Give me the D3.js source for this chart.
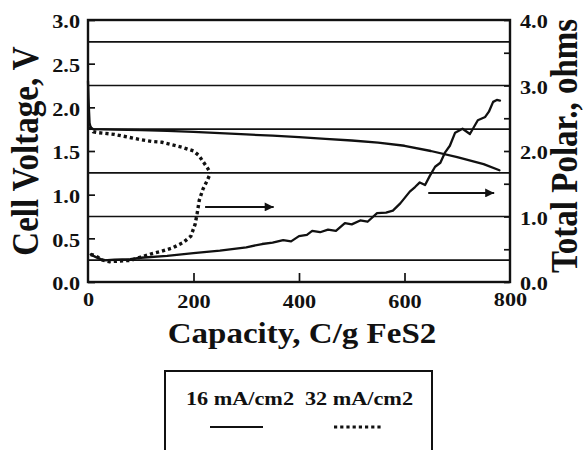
<!DOCTYPE html>
<html>
<head>
<meta charset="utf-8">
<script src="https://cdn.jsdelivr.net/npm/d3@7/dist/d3.min.js"></script>
<style>
  html, body { margin: 0; padding: 0; background: #fff; }
  svg { display: block; }
  text { font-family: "Liberation Serif", "Times New Roman", serif; font-weight: bold; fill: #111; }
</style>
</head>
<body>
<svg id="chart" width="586" height="450"></svg>
<script>
// capacity ticks and axis values
const capTicks = [0, 200, 400, 600, 800];
const voltTicks = [0, 0.5, 1.0, 1.5, 2.0, 2.5, 3.0];
const ohmTicks = [0, 0.5, 1, 1.5, 2, 2.5, 3, 3.5, 4];
const gridVolts = [0.25, 0.75, 1.25, 1.75, 2.25, 2.75];

// 16 mA/cm2 : cell voltage
const cap16V = [0, 1, 2, 3, 5, 10, 50, 100, 150, 200, 250, 300, 350, 400, 450, 500, 550, 600, 650, 700, 750, 780];
const volt16 = [2.3, 2.1, 1.95, 1.82, 1.77, 1.75, 1.745, 1.74, 1.73, 1.72, 1.705, 1.69, 1.675, 1.66, 1.64, 1.62, 1.595, 1.56, 1.5, 1.43, 1.35, 1.28];

// 16 mA/cm2 : total polarization
const cap16P = [5, 15, 30, 50, 80, 100, 150, 200, 250, 300, 330, 350, 370, 385, 400, 415, 425, 440, 455, 470, 487, 500, 516, 530, 548, 565, 578, 592, 610, 620, 629, 639, 648, 658, 668, 677, 686, 696, 710, 724, 739, 753, 760, 768, 775, 781];
const ohm16 = [0.42, 0.38, 0.33, 0.34, 0.35, 0.37, 0.4, 0.44, 0.48, 0.53, 0.58, 0.6, 0.64, 0.62, 0.7, 0.72, 0.78, 0.76, 0.8, 0.78, 0.9, 0.88, 0.94, 0.92, 1.05, 1.06, 1.09, 1.2, 1.38, 1.45, 1.52, 1.48, 1.62, 1.76, 1.82, 1.98, 2.08, 2.28, 2.34, 2.26, 2.47, 2.52, 2.6, 2.75, 2.78, 2.77];

// 32 mA/cm2 : cell voltage
const cap32V = [3, 10, 20, 50, 75, 100, 120, 140, 160, 180, 200, 210, 218, 226, 232];
const volt32 = [1.78, 1.72, 1.71, 1.69, 1.66, 1.63, 1.61, 1.6, 1.57, 1.54, 1.5, 1.45, 1.38, 1.31, 1.25];

// 32 mA/cm2 : total polarization
const cap32P = [5, 15, 25, 40, 60, 80, 100, 120, 140, 160, 180, 195, 203, 207, 211, 218, 226, 232];
const ohm32 = [0.42, 0.4, 0.34, 0.31, 0.32, 0.33, 0.38, 0.43, 0.47, 0.52, 0.6, 0.7, 0.88, 1.05, 1.25, 1.42, 1.55, 1.66];

// arrows: [capFrom, capTo, volt]
const arrows = [[222, 352, 0.86], [645, 770, 1.02]];

const legendLabels = ["16 mA/cm2", "32 mA/cm2"];

const svg = d3.select("#chart");
const pL = 88, pR = 510, pT = 20, pB = 282;
const STRETCH = 1.17; // the scanned figure is a bit wide

const x = d3.scaleLinear().domain([0, 800]).range([pL, pR]);
const yV = d3.scaleLinear().domain([0, 3]).range([pB, pT]);
const yP = d3.scaleLinear().domain([0, 4]).range([pB, pT]);

// widen horizontal text to match the scan
function widen(sel, f) {
  sel.each(function () {
    const w = this.getComputedTextLength();
    if (w > 0) d3.select(this).attr("textLength", w * f).attr("lengthAdjust", "spacingAndGlyphs");
  });
}

svg.append("defs").append("marker")
  .attr("id", "arr").attr("viewBox", "0 0 10 10")
  .attr("refX", 10).attr("refY", 5)
  .attr("markerWidth", 16).attr("markerHeight", 9)
  .attr("markerUnits", "userSpaceOnUse")
  .attr("orient", "auto")
  .append("path").attr("d", "M0,0 L10,5 L0,10 Z").attr("fill", "#111");

// gridlines
svg.append("g").selectAll("line").data(gridVolts).join("line")
  .attr("x1", pL).attr("x2", pR)
  .attr("y1", d => yV(d)).attr("y2", d => yV(d))
  .attr("stroke", "#111").attr("stroke-width", 1.7);

// axes (ticks inside)
const axL = svg.append("g").attr("transform", `translate(${pL},0)`)
  .call(d3.axisLeft(yV).tickValues(voltTicks).tickSize(-7).tickFormat(d3.format(".1f")).tickPadding(8));
const axR = svg.append("g").attr("transform", `translate(${pR},0)`)
  .call(d3.axisRight(yP).tickValues(ohmTicks).tickSize(-6)
    .tickFormat(d => Number.isInteger(d) ? d.toFixed(1) : "").tickPadding(10));
const axB = svg.append("g").attr("transform", `translate(0,${pB})`)
  .call(d3.axisBottom(x).tickValues(capTicks).tickSize(-9).tickFormat(d3.format("d")).tickPadding(13));

[axL, axR, axB].forEach(a => {
  a.select(".domain").remove();
  a.selectAll("line").attr("stroke", "#111").attr("stroke-width", 1.7);
  a.selectAll("text").attr("font-size", 19).attr("fill", "#111")
    .attr("font-family", '"Liberation Serif", serif').attr("font-weight", "bold");
});
axL.selectAll("text").attr("dy", "0.42em");
axR.selectAll("text").attr("dy", "0.4em");
axB.selectAll("text").attr("dy", "0.71em");
axB.selectAll(".tick").filter(d => d === 0 || d === 800).select("line").remove();
axB.selectAll(".tick").filter(d => d === 0 || d === 800).select("text").attr("dy", "0.6em");
[axL, axR, axB].forEach(a => widen(a.selectAll("text"), STRETCH));

// frame
svg.append("rect").attr("x", pL).attr("y", pT)
  .attr("width", pR - pL).attr("height", pB - pT)
  .attr("fill", "none").attr("stroke", "#111").attr("stroke-width", 2.4);

// curves
const lineV = d3.line().x(d => x(d[0])).y(d => yV(d[1]));
const lineP = d3.line().x(d => x(d[0])).y(d => yP(d[1]));

function drawCurve(caps, vals, gen, dotted) {
  svg.append("path").datum(d3.zip(caps, vals))
    .attr("d", gen).attr("fill", "none").attr("stroke", "#111")
    .attr("stroke-width", dotted ? 3.4 : 2.3)
    .attr("stroke-linejoin", "round")
    .attr("stroke-linecap", dotted ? "butt" : "round")
    .attr("stroke-dasharray", dotted ? "3.2,3" : null);
}
drawCurve(cap16V, volt16, lineV, false);
drawCurve(cap16P, ohm16, lineP, false);
drawCurve(cap32V, volt32, lineV, true);
drawCurve(cap32P, ohm32, lineP, true);

// arrows
svg.append("g").selectAll("line").data(arrows).join("line")
  .attr("x1", d => x(d[0])).attr("x2", d => x(d[1]))
  .attr("y1", d => yV(d[2])).attr("y2", d => yV(d[2]))
  .attr("stroke", "#111").attr("stroke-width", 2)
  .attr("marker-end", "url(#arr)");

// axis titles
const xTitle = svg.append("text").attr("x", 302).attr("y", 343)
  .attr("text-anchor", "middle").attr("font-size", 30).text("Capacity, C/g FeS2");
widen(xTitle, 1.1);
svg.append("text").attr("transform", `translate(38,151) scale(${STRETCH},1) rotate(-90)`)
  .attr("text-anchor", "middle").attr("font-size", 33).text("Cell Voltage, V");
svg.append("text").attr("transform", `translate(577,146) scale(${STRETCH},1) rotate(-90)`)
  .attr("text-anchor", "middle").attr("font-size", 33).text("Total Polar., ohms");

// legend box (open at bottom)
const lg = svg.append("g");
lg.append("path").attr("d", "M165,452 L165,371 L432,371 L432,452")
  .attr("fill", "none").attr("stroke", "#111").attr("stroke-width", 2);
const lgX = [240, 359];
lg.selectAll("text").data(legendLabels).join("text")
  .attr("x", (d, i) => lgX[i]).attr("y", 405)
  .attr("text-anchor", "middle").attr("font-size", 19).text(d => d);
widen(lg.selectAll("text"), STRETCH);
lg.selectAll("line").data(legendLabels).join("line")
  .attr("x1", (d, i) => i ? 334 : 210).attr("x2", (d, i) => i ? 383 : 263)
  .attr("y1", 427).attr("y2", 427)
  .attr("stroke", "#111").attr("stroke-width", (d, i) => i ? 3.2 : 2.2)
  .attr("stroke-dasharray", (d, i) => i ? "3.2,3" : null);
</script>
</body>
</html>
